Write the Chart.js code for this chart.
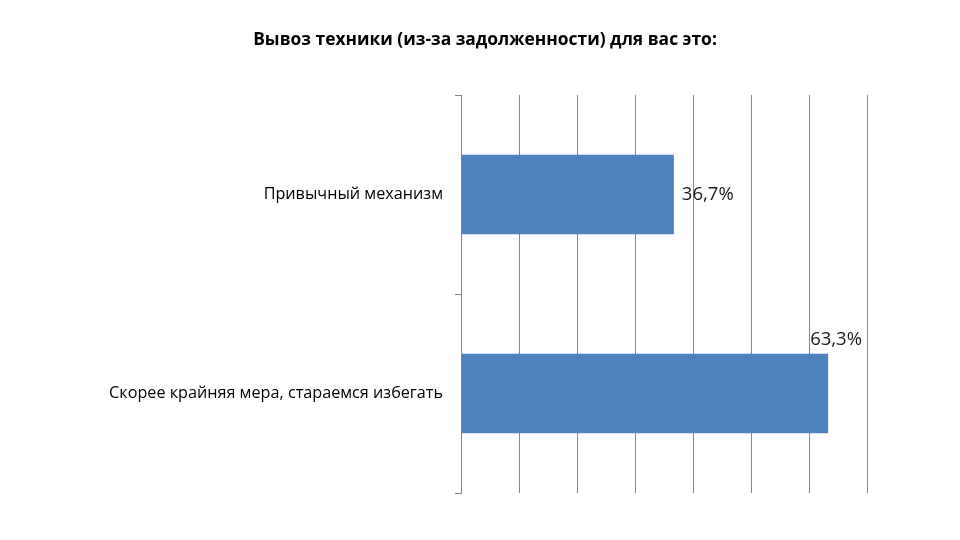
<!DOCTYPE html>
<html>
<head>
<meta charset="utf-8">
<script src="https://cdn.jsdelivr.net/npm/chart.js@4/dist/chart.umd.min.js"></script>
<style>
  html, body { margin: 0; padding: 0; background: #fff; }
  #wrap { width: 960px; height: 540px; }
</style>
</head>
<body>
<div id="wrap"><canvas id="chart"></canvas></div>
<script>
// Data
const chartTitle = 'Вывоз техники (из-за задолженности) для вас это:';
const categories = ['Привычный механизм', 'Скорее крайняя мера, стараемся избегать'];
const shares = [36.7, 63.3];
const axisMax = 70;
const axisStep = 10;

const FONT = '"Open Sans", "DejaVu Sans", sans-serif';
const GRID = '#868686';

// Draws the chart title centered over the page (as in the slide)
const titlePlugin = {
    id: 'slideTitle',
    afterDraw(chart) {
        const ctx = chart.ctx;
        ctx.save();
        ctx.font = 'bold 17.4px ' + FONT;
        ctx.fillStyle = '#000';
        ctx.textAlign = 'center';
        ctx.textBaseline = 'middle';
        ctx.fillText(chartTitle, 485, 40);
        ctx.restore();
    }
};

// Value labels: outside the bar end, or above it when there is no room
const valueLabels = {
    id: 'valueLabels',
    afterDatasetsDraw(chart) {
        const ctx = chart.ctx;
        const area = chart.chartArea;
        const meta = chart.getDatasetMeta(0);
        ctx.save();
        ctx.font = '18.5px ' + FONT;
        ctx.fillStyle = '#1a1a1a';
        meta.data.forEach((bar, i) => {
            const text = shares[i].toFixed(1).replace('.', ',') + '%';
            const w = ctx.measureText(text).width;
            const h = bar.height;
            if (bar.x + 8 + w <= area.right - 40) {
                ctx.textAlign = 'left';
                ctx.textBaseline = 'middle';
                ctx.fillText(text, bar.x + 8, bar.y);
            } else {
                ctx.textAlign = 'left';
                ctx.textBaseline = 'middle';
                ctx.fillText(text, bar.x - 18, bar.y - h / 2 - 14);
            }
        });
        ctx.restore();
    }
};

new Chart(document.getElementById('chart'), {
    type: 'bar',
    data: {
        labels: categories,
        datasets: [{
            data: shares,
            backgroundColor: '#4f81bd',
            borderWidth: 0,
            categoryPercentage: 1.0,
            barPercentage: 0.4
        }]
    },
    options: {
        indexAxis: 'y',
        responsive: true,
        maintainAspectRatio: false,
        animation: false,
        layout: { padding: { top: 95, right: 93, bottom: 47, left: 0 } },
        plugins: {
            legend: { display: false },
            tooltip: { enabled: false },
            title: { display: false }
        },
        scales: {
            x: {
                min: 0,
                max: axisMax,
                ticks: { display: false, stepSize: axisStep },
                grid: { color: GRID, lineWidth: 1, drawTicks: false },
                border: { display: false }
            },
            y: {
                afterFit(scale) { scale.width = 461; },
                ticks: {
                    color: '#000',
                    padding: 12,
                    font: { family: FONT, size: 16.2 }
                },
                grid: { drawOnChartArea: false, color: GRID, tickLength: 6, offset: true },
                border: { display: true, color: GRID, width: 1 }
            }
        }
    },
    plugins: [titlePlugin, valueLabels]
});
</script>
</body>
</html>
